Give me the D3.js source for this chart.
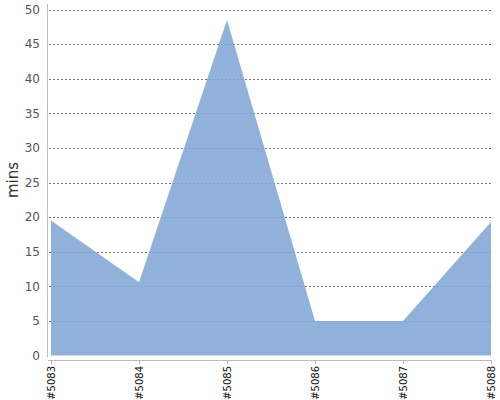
<!DOCTYPE html>
<html>
<head>
<meta charset="utf-8">
<script src="https://cdn.jsdelivr.net/npm/d3@7"></script>
<style>
  body { margin: 0; background: #fff; }
  text { font-family: "DejaVu Sans", sans-serif; }
</style>
</head>
<body>
<script>
// builds and the minutes each took
var builds = ["#5083", "#5084", "#5085", "#5086", "#5087", "#5088"];
var mins = [19.5, 10.6, 48.5, 5, 5, 19.3];
var yTicks = [0, 5, 10, 15, 20, 25, 30, 35, 40, 45, 50];

var width = 500, height = 400;

var svg = d3.select("body")
        .append("svg")
        .attr("width", width)
        .attr("height", height);

var x = d3.scalePoint()
        .domain(builds)
        .range([51, 491]);

var y = d3.scaleLinear()
        .domain([0, 50])
        .range([355.5, 9.5]);

// grid under a slightly see-through area
svg.selectAll(".grid")
        .data(yTicks.filter(function(d) { return d > 0; }))
        .enter()
        .append("line")
        .attr("class", "grid")
        .attr("x1", 49)
        .attr("x2", 491)
        .attr("y1", function(d) { return Math.round(y(d)) + 0.5; })
        .attr("y2", function(d) { return Math.round(y(d)) + 0.5; })
        .attr("stroke", "#777")
        .attr("stroke-dasharray", "2,2");

var area = d3.area()
        .x(function(d, i) { return x(builds[i]); })
        .y0(y(0))
        .y1(function(d) { return y(d); });

svg.append("path")
        .datum(mins)
        .attr("d", area)
        .attr("fill", "#80a6d5")
        .attr("fill-opacity", 0.88);

// y axis
svg.append("line")
        .attr("x1", 47.5).attr("x2", 47.5)
        .attr("y1", 4).attr("y2", 357)
        .attr("stroke", "#bbb");

svg.selectAll(".ylab")
        .data(yTicks)
        .enter()
        .append("text")
        .attr("class", "ylab")
        .attr("x", 40)
        .attr("y", function(d) { return y(d); })
        .attr("dy", "0.36em")
        .attr("text-anchor", "end")
        .attr("font-size", 12)
        .attr("fill", "#555")
        .text(function(d) { return d; });

svg.append("text")
        .attr("transform", "translate(18,180) rotate(-90)")
        .attr("text-anchor", "middle")
        .attr("font-size", 15)
        .attr("fill", "#333")
        .text("mins");

// x axis
svg.append("line")
        .attr("x1", 48).attr("x2", 492)
        .attr("y1", 360.5).attr("y2", 360.5)
        .attr("stroke", "#bbb");

svg.selectAll(".xtick")
        .data(builds)
        .enter()
        .append("line")
        .attr("class", "xtick")
        .attr("x1", function(d) { return Math.round(x(d)) + 0.5; })
        .attr("x2", function(d) { return Math.round(x(d)) + 0.5; })
        .attr("y1", 360)
        .attr("y2", 364)
        .attr("stroke", "#bbb");

svg.selectAll(".xlab")
        .data(builds)
        .enter()
        .append("text")
        .attr("class", "xlab")
        .attr("transform", function(d) {
            return "translate(" + x(d) + ",366) rotate(-90)";
        })
        .attr("dy", "0.35em")
        .attr("text-anchor", "end")
        .attr("font-size", 10)
        .attr("fill", "#111")
        .text(function(d) { return d; });
</script>
</body>
</html>
